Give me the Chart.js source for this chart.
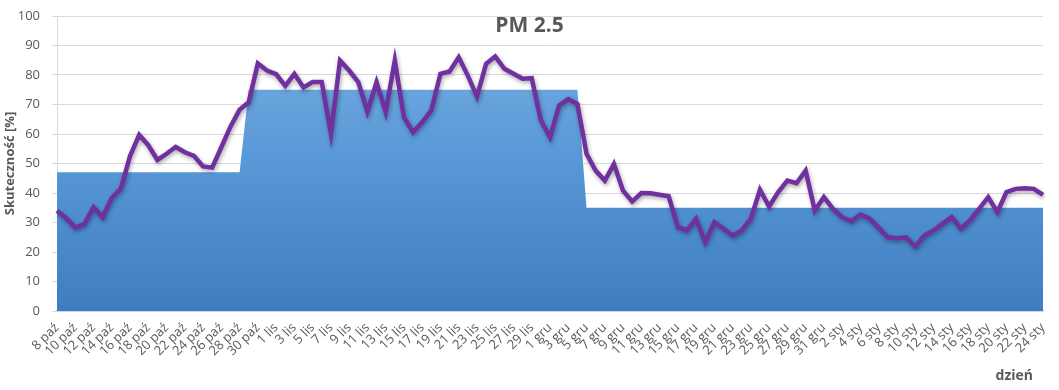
<!DOCTYPE html>
<html>
<head>
<meta charset="utf-8">
<script src="https://cdn.jsdelivr.net/npm/chart.js@4"></script>
<style>
  html, body { margin: 0; padding: 0; background: #ffffff; }
  #wrap { width: 1059px; height: 390px; position: relative; }
</style>
</head>
<body>
<div id="wrap"><canvas id="c" width="1059" height="390"></canvas></div>
<script>
// ---- data ----
const categories = [
  "8 paź","9 paź","10 paź","11 paź","12 paź","13 paź","14 paź","15 paź","16 paź","17 paź","18 paź","19 paź",
  "20 paź","21 paź","22 paź","23 paź","24 paź","25 paź","26 paź","27 paź","28 paź","29 paź","30 paź","31 paź",
  "1 lis","2 lis","3 lis","4 lis","5 lis","6 lis","7 lis","8 lis","9 lis","10 lis","11 lis","12 lis","13 lis","14 lis","15 lis",
  "16 lis","17 lis","18 lis","19 lis","20 lis","21 lis","22 lis","23 lis","24 lis","25 lis","26 lis","27 lis","28 lis","29 lis","30 lis",
  "1 gru","2 gru","3 gru","4 gru","5 gru","6 gru","7 gru","8 gru","9 gru","10 gru","11 gru","12 gru","13 gru","14 gru","15 gru","16 gru",
  "17 gru","18 gru","19 gru","20 gru","21 gru","22 gru","23 gru","24 gru","25 gru","26 gru","27 gru","28 gru","29 gru","30 gru","31 gru",
  "1 sty","2 sty","3 sty","4 sty","5 sty","6 sty","7 sty","8 sty","9 sty","10 sty","11 sty","12 sty","13 sty","14 sty","15 sty","16 sty",
  "17 sty","18 sty","19 sty","20 sty","21 sty","22 sty","23 sty","24 sty"
];

// daily efficiency (line)
const dailyValues = [
  34, 31.5, 28.3, 29.5, 35.2, 31.8, 38.3, 41.5, 52.5, 59.7, 56.2, 51.2,
  53.3, 55.6, 53.8, 52.6, 49, 48.6, 55.5, 62.5, 68.2, 70.8, 83.9, 81.5,
  80.3, 76.3, 80.4, 75.8, 77.6, 77.6, 60.2, 84.9, 81.5, 77.6, 67.6, 77.6, 67.4, 84.9, 65.7,
  60.6, 64, 68, 80.4, 81.2, 86, 79.8, 72.7, 83.8, 86.3, 82.1, 80.4, 78.7, 78.9, 64.6,
  58.9, 69.7, 71.8, 70.2, 53.3, 47.6, 44.2, 49.8, 40.8, 37.1, 40, 39.9, 39.4, 38.9, 28.4, 27.3,
  31.3, 23.3, 30.1, 27.9, 25.6, 27.3, 31.3, 41.1, 35.4, 40.3, 44.2, 43.3, 47.6, 34.1, 38.6,
  34.6, 31.8, 30.4, 32.7, 31.3, 28.2, 25, 24.7, 25, 21.8, 25.6, 27.3, 29.6, 31.8, 27.9, 30.7,
  34.6, 38.6, 33.5, 40.3, 41.4, 41.6, 41.4, 39.4
];

// period average efficiency (area)
const periodValues = [
  47, 47, 47, 47, 47, 47, 47, 47, 47, 47, 47, 47,
  47, 47, 47, 47, 47, 47, 47, 47, 47, 75, 75, 75,
  75, 75, 75, 75, 75, 75, 75, 75, 75, 75, 75, 75, 75, 75, 75,
  75, 75, 75, 75, 75, 75, 75, 75, 75, 75, 75, 75, 75, 75, 75,
  75, 75, 75, 75, 35, 35, 35, 35, 35, 35, 35, 35, 35, 35, 35, 35,
  35, 35, 35, 35, 35, 35, 35, 35, 35, 35, 35, 35, 35, 35, 35,
  35, 35, 35, 35, 35, 35, 35, 35, 35, 35, 35, 35, 35, 35, 35, 35,
  35, 35, 35, 35, 35, 35, 35, 35
];

const yTicks = [0, 10, 20, 30, 40, 50, 60, 70, 80, 90, 100];
const titleText = "PM 2.5";
const yTitle = "Skuteczność [%]";
const xTitle = "dzień";

// ---- chart ----
const FONT = "'Open Sans', 'Liberation Sans', sans-serif";
const GREY = "#595959";

const shadowPlugin = {
  id: 'lineShadow',
  beforeDatasetDraw(chart, args) {
    if (args.index === 1) {
      const ctx = chart.ctx;
      ctx.save();
      ctx.shadowColor = 'rgba(0,0,0,0.35)';
      ctx.shadowBlur = 4;
      ctx.shadowOffsetX = 1;
      ctx.shadowOffsetY = 2;
    }
  },
  afterDatasetDraw(chart, args) {
    if (args.index === 1) chart.ctx.restore();
  }
};

const overlayTitle = {
  id: 'overlayTitle',
  afterDraw(chart) {
    const ctx = chart.ctx;
    ctx.save();
    ctx.font = "bold 21px " + FONT;
    ctx.fillStyle = GREY;
    ctx.textAlign = 'center';
    ctx.textBaseline = 'middle';
    ctx.fillText(titleText, chart.width / 2, 26);
    ctx.font = "bold 14px " + FONT;
    ctx.textAlign = 'right';
    ctx.fillText(xTitle, chart.chartArea.right - 10, 376);
    ctx.restore();
  }
};

new Chart(document.getElementById('c'), {
  type: 'line',
  data: {
    labels: categories,
    datasets: [
      {
        label: 'okres',
        data: periodValues,
        fill: 'origin',
        borderWidth: 0,
        pointRadius: 0,
        tension: 0,
        order: 2,
        backgroundColor: (context) => {
          const ca = context.chart.chartArea;
          if (!ca) return '#5b9bd5';
          const g = context.chart.ctx.createLinearGradient(0, ca.top, 0, ca.bottom);
          g.addColorStop(0, '#7cb0e2');
          g.addColorStop(0.45, '#5a9ad8');
          g.addColorStop(1, '#3e7ec0');
          return g;
        }
      },
      {
        label: 'dzień',
        data: dailyValues,
        fill: false,
        borderColor: '#7030a0',
        borderWidth: 4.5,
        borderJoinStyle: 'miter',
        pointRadius: 0,
        tension: 0,
        order: 1
      }
    ]
  },
  options: {
    responsive: false,
    animation: false,
    events: [],
    layout: { padding: { top: 16, right: 16, left: 0, bottom: 0 } },
    plugins: {
      legend: { display: false },
      tooltip: { enabled: false },
      title: { display: false }
    },
    scales: {
      x: {
        offset: false,
        grid: { display: false, drawTicks: false },
        border: { display: true, color: '#c9d7e8', width: 2 },
        afterFit: (scale) => { scale.height = 79; scale.paddingLeft = 0; scale.paddingRight = 0; },
        ticks: {
          autoSkip: false,
          maxRotation: 45,
          minRotation: 45,
          padding: 9,
          color: GREY,
          font: { family: FONT, size: 13 },
          callback: (v, i) => (i % 2 === 0 ? categories[i] : '')
        },
        title: { display: false }
      },
      y: {
        min: 0,
        max: 100,
        afterBuildTicks: (axis) => { axis.ticks = yTicks.map(v => ({ value: v })); },
        afterFit: (scale) => { scale.width = 57; scale.paddingTop = 0; scale.paddingBottom = 0; },
        grid: { color: '#d9d9d9', lineWidth: 1, drawTicks: true, tickLength: 5, tickColor: '#d9d9d9' },
        border: { display: true, color: '#d9d9d9' },
        ticks: {
          padding: 12,
          color: GREY,
          font: { family: FONT, size: 13 }
        },
        title: {
          display: true,
          text: yTitle,
          color: GREY,
          font: { family: FONT, size: 13, weight: 'bold' },
          padding: { top: 2, bottom: 0 }
        }
      }
    }
  },
  plugins: [shadowPlugin, overlayTitle]
});
</script>
</body>
</html>
